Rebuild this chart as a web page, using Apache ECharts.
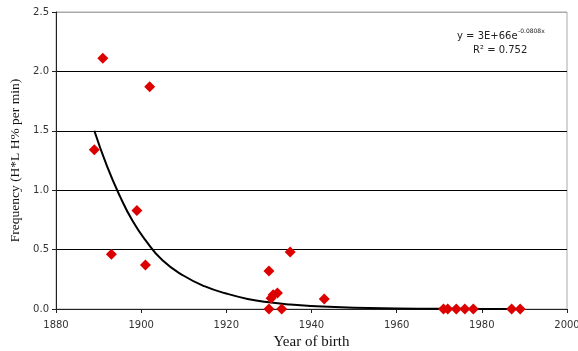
<!DOCTYPE html>
<html><head><meta charset="utf-8">
<script src="https://cdn.jsdelivr.net/npm/echarts@6/dist/echarts.min.js"></script>
<style>html,body{margin:0;padding:0;background:#fff}#c{width:578px;height:351px}</style>
</head><body><div id="c"></div>
<script>
var years = [1889, 1891, 1893, 1899, 1901, 1902, 1930, 1930, 1930.5, 1931, 1932, 1933, 1935, 1943, 1971, 1972, 1974, 1976, 1978, 1987, 1989];
var freq  = [1.34, 2.11, 0.46, 0.83, 0.37, 1.87, 0.32, 0.0, 0.09, 0.12, 0.135, 0.0, 0.48, 0.085, 0, 0, 0, 0, 0, 0, 0];
var trendYears = [1889, 1892, 1895, 1898, 1901, 1905, 1910, 1915, 1920, 1925, 1930, 1935, 1940, 1950, 1960, 1970, 1980, 1989];
var trendVals  = [1.50, 1.20, 0.95, 0.74, 0.58, 0.41, 0.28, 0.19, 0.13, 0.085, 0.056, 0.037, 0.025, 0.011, 0.005, 0.002, 0.001, 0.0005];
var xTicks = [1880, 1900, 1920, 1940, 1960, 1980, 2000];
var yTicks = [0.0, 0.5, 1.0, 1.5, 2.0, 2.5];
var eqText = 'y = 3E+66e';
var eqExp = '-0.0808x';
var r2Text = 'R² = 0.752';

var chart = echarts.init(document.getElementById('c'));
chart.setOption({
  animation: false,
  grid: {left: 56, right: 11, top: 12, bottom: 42, show: true, borderColor: '#aaa', borderWidth: 1,
         containLabel: false, outerBoundsMode: 'none'},
  xAxis: {
    type: 'value', min: xTicks[0], max: xTicks[xTicks.length-1], interval: 20,
    name: 'Year of birth', nameLocation: 'middle', nameGap: 25,
    nameTextStyle: {fontFamily: 'Liberation Serif', fontSize: 15, color: '#111'},
    axisLine: {onZero: false, lineStyle: {color: '#222', width: 1}},
    axisTick: {show: true, length: 4, lineStyle: {color: '#222'}},
    axisLabel: {fontFamily: 'DejaVu Sans', fontSize: 10, color: '#333', margin: 11,
      formatter: function(v){return String(v);}},
    splitLine: {show: false}
  },
  yAxis: {
    type: 'value', min: yTicks[0], max: yTicks[yTicks.length-1], interval: 0.5,
    name: 'Frequency (H*L H% per min)', nameLocation: 'middle', nameGap: 34,
    nameTextStyle: {fontFamily: 'Liberation Serif', fontSize: 13.5, color: '#111'},
    axisLine: {show: true, lineStyle: {color: '#222', width: 1}},
    axisTick: {show: true, length: 4, lineStyle: {color: '#222'}},
    axisLabel: {fontFamily: 'DejaVu Sans', fontSize: 10, color: '#333', margin: 7,
      formatter: function(v){return v.toFixed(1);}},
    splitLine: {show: true, lineStyle: {color: ['#000','#000','#000','#000','#000','#aaa'], width: 1}}
  },
  graphic: [
    {type: 'text', left: 457, top: 31, style: {text: eqText, font: '10px "DejaVu Sans"', fill: '#222'}},
    {type: 'text', left: 518, top: 28, style: {text: eqExp, font: '6px "DejaVu Sans"', fill: '#222'}},
    {type: 'text', left: 473, top: 45, style: {text: r2Text, font: '10px "DejaVu Sans"', fill: '#222'}}
  ],
  series: [
    {type: 'line', data: trendYears.map(function(y,i){return [y, trendVals[i]];}),
     smooth: true, showSymbol: false, lineStyle: {color: '#000', width: 2}, z: 2},
    {type: 'scatter', data: years.map(function(y,i){return [y, freq[i]];}),
     symbol: 'diamond', symbolSize: 11, itemStyle: {color: '#dd0000', opacity: 1}, z: 3}
  ]
});
</script></body></html>
